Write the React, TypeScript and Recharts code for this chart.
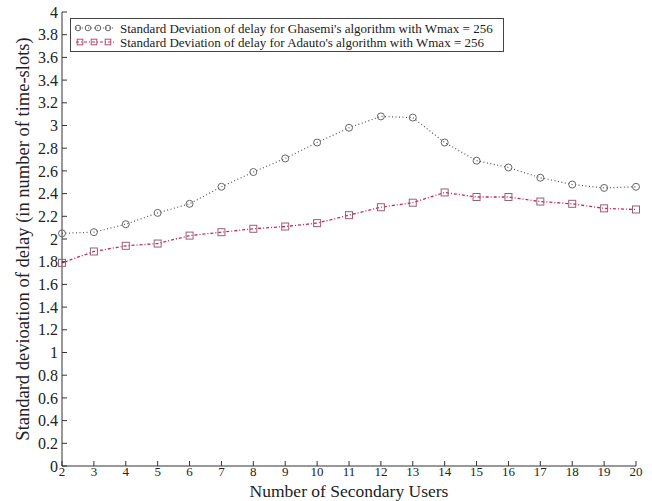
import React from 'react';
import { LineChart, Line, XAxis, YAxis, Legend } from 'recharts';

const users = [2, 3, 4, 5, 6, 7, 8, 9, 10, 11, 12, 13, 14, 15, 16, 17, 18, 19, 20];
const ghasemi = [2.05, 2.06, 2.13, 2.23, 2.31, 2.46, 2.59, 2.71, 2.85, 2.98, 3.08, 3.07, 2.85, 2.69, 2.63, 2.54, 2.48, 2.45, 2.46];
const adauto = [1.79, 1.89, 1.94, 1.96, 2.03, 2.06, 2.09, 2.11, 2.14, 2.21, 2.28, 2.32, 2.41, 2.37, 2.37, 2.33, 2.31, 2.27, 2.26];
const yTicks = [0, 0.2, 0.4, 0.6, 0.8, 1, 1.2, 1.4, 1.6, 1.8, 2, 2.2, 2.4, 2.6, 2.8, 3, 3.2, 3.4, 3.6, 3.8, 4];

const legendLabels = [
  "Standard Deviation of delay for  Ghasemi's algorithm with Wmax = 256",
  "Standard Deviation of delay for  Adauto's algorithm with Wmax = 256",
];

const data = users.map((u, i) => ({ users: u, ghasemi: ghasemi[i], adauto: adauto[i] }));

const SERIF = '"Liberation Serif", "DejaVu Serif", serif';
const GRAY = '#555';
const RED = '#d0245a';

const Circle = (props: any) => {
  const { cx, cy } = props;
  if (cx == null || cy == null) return <g />;
  return <circle cx={cx} cy={cy} r={3.5} fill="none" stroke="#666" strokeWidth={1} />;
};

const Square = (props: any) => {
  const { cx, cy } = props;
  if (cx == null || cy == null) return <g />;
  return <rect x={cx - 3.5} y={cy - 3.5} width={7} height={7} fill="none" stroke="#9a6070" strokeWidth={1} />;
};

const LegendBox = () => (
  <svg width={434} height={34} style={{ display: 'block' }}>
    <rect x={0.5} y={0.5} width={433} height={33} fill="#fff" stroke="#444" />
    <line x1={6} x2={44} y1={10} y2={10} stroke={GRAY} strokeDasharray="1 2" />
    {[8, 18, 28, 38].map((x) => (
      <circle key={x} cx={x} cy={10} r={2.8} fill="none" stroke="#666" />
    ))}
    <text x={50} y={14.5} fontFamily={SERIF} fontSize={13} fill="#222">{legendLabels[0]}</text>
    <line x1={6} x2={44} y1={24} y2={24} stroke={RED} strokeDasharray="3 2 1 2" />
    {[10, 24, 38].map((x) => (
      <rect key={x} x={x - 2.8} y={21.2} width={5.6} height={5.6} fill="none" stroke="#b05070" />
    ))}
    <text x={50} y={28.5} fontFamily={SERIF} fontSize={13} fill="#222">{legendLabels[1]}</text>
  </svg>
);

const EmptyTick = () => <g />;

export default function App() {
  return (
    <div style={{ position: 'absolute', left: 0, top: 0, width: 652, height: 501, background: '#fff' }}>
      <LineChart width={652} height={501} data={data} margin={{ top: 12, right: 16, left: 0, bottom: 0 }}>
        <XAxis
          dataKey="users"
          type="number"
          domain={[2, 20]}
          ticks={users}
          interval={0}
          height={35}
          stroke="#333"
          tickSize={-5}
          tickMargin={6}
          tick={{ fontFamily: SERIF, fontSize: 13, fill: '#222' }}
          label={{ value: 'Number of Secondary Users', position: 'insideBottom', offset: 4, fontFamily: SERIF, fontSize: 17.5, fill: '#222' }}
        />
        <XAxis
          xAxisId="top"
          orientation="top"
          dataKey="users"
          type="number"
          domain={[2, 20]}
          ticks={users}
          interval={0}
          height={0}
          stroke="#333"
          tickSize={-5}
          tick={EmptyTick}
        />
        <YAxis
          type="number"
          domain={[0, 4]}
          ticks={yTicks}
          width={62}
          stroke="#333"
          tickSize={-5}
          tickMargin={9}
          interval={0}
          tick={{ fontFamily: SERIF, fontSize: 16, fill: '#222' }}
          label={{ value: 'Standard devioation of delay (in number of time-slots)', angle: -90, position: 'insideLeft', offset: 22, style: { textAnchor: 'middle' }, fontFamily: SERIF, fontSize: 18.5, fill: '#222' }}
        />
        <YAxis
          yAxisId="right"
          orientation="right"
          type="number"
          domain={[0, 4]}
          ticks={yTicks}
          width={0}
          stroke="#333"
          tickSize={-5}
          interval={0}
          tick={EmptyTick}
        />
        <Legend
          content={<LegendBox />}
          layout="vertical"
          verticalAlign="middle"
          align="center"
          wrapperStyle={{ position: 'absolute', left: 70, top: 18, width: 434 }}
        />
        <Line
          dataKey="ghasemi"
          stroke={GRAY}
          strokeWidth={1.2}
          strokeDasharray="1 2.5"
          dot={<Circle />}
          activeDot={false}
          isAnimationActive={false}
        />
        <Line
          dataKey="adauto"
          stroke={RED}
          strokeWidth={1.3}
          strokeDasharray="3 2 1 2"
          dot={<Square />}
          activeDot={false}
          isAnimationActive={false}
        />
      </LineChart>
    </div>
  );
}
